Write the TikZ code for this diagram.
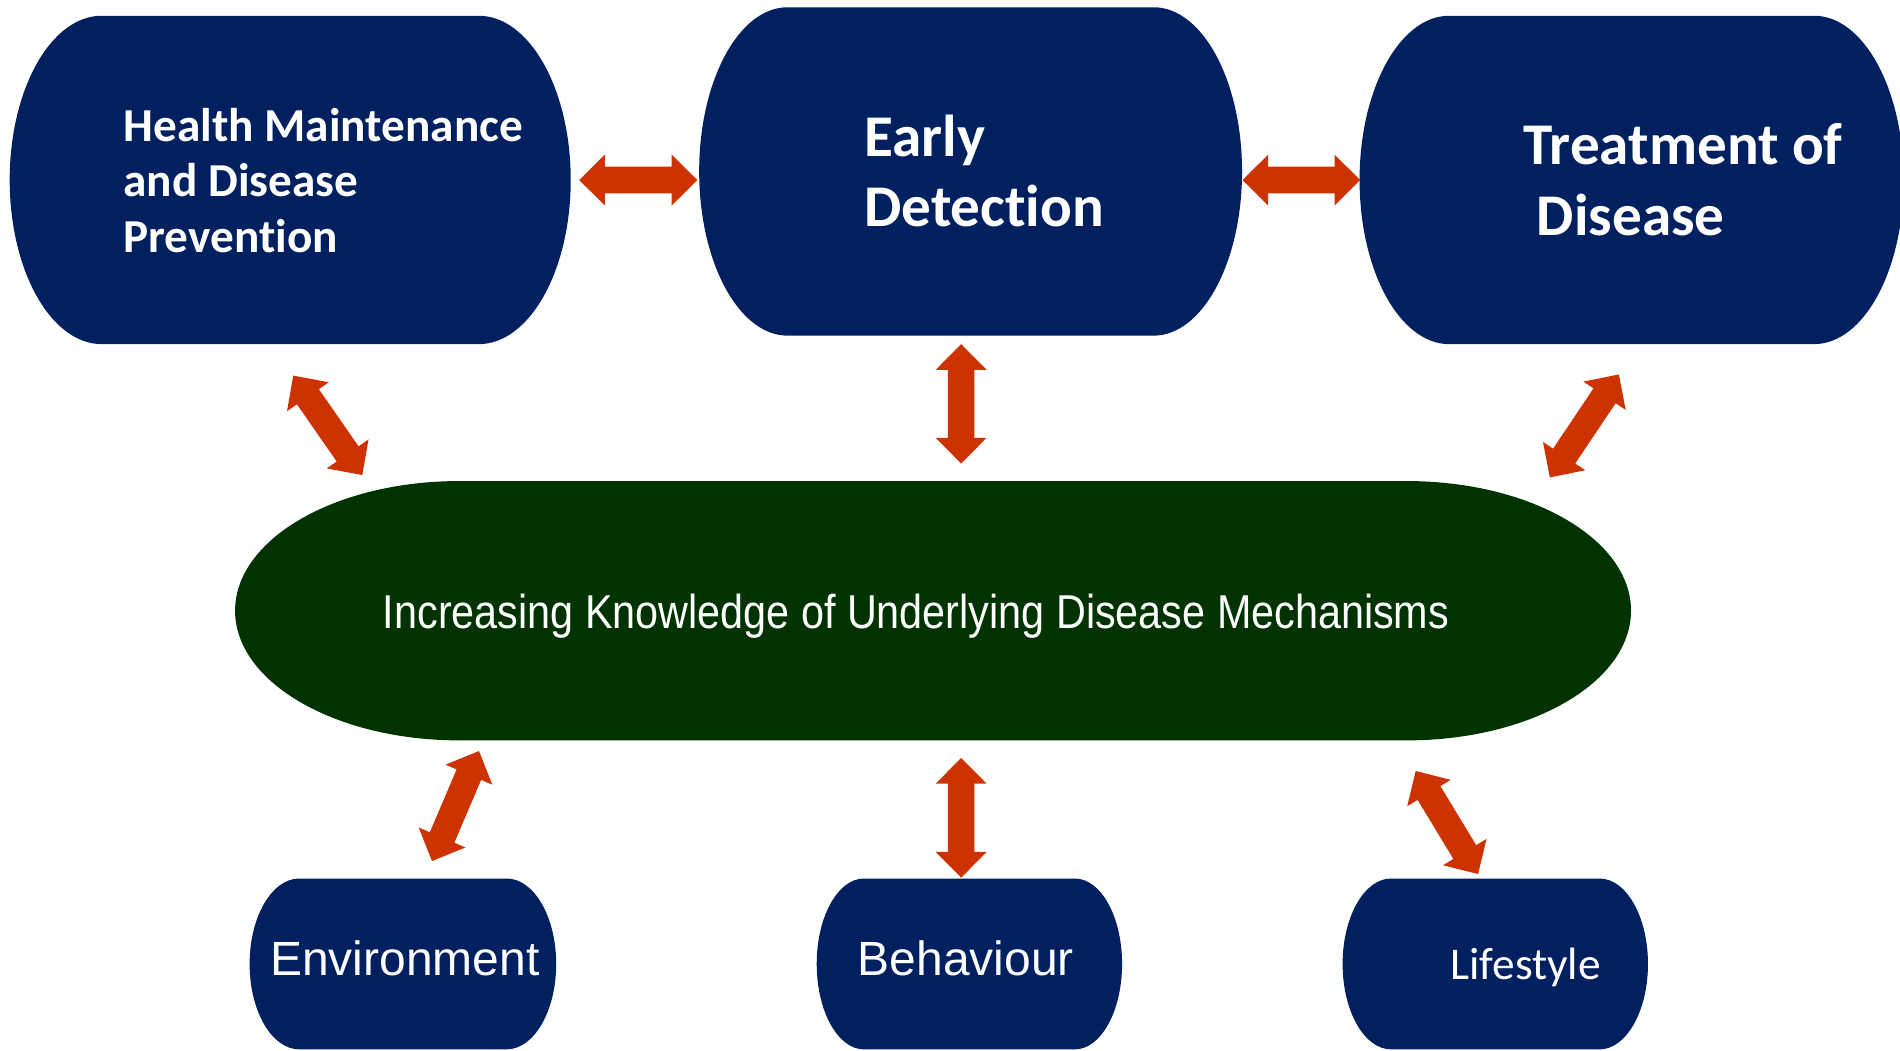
\documentclass[tikz,border=0pt]{standalone}
\usepackage{fontspec}
\usepackage{graphicx}
\usetikzlibrary{calc}
\newfontfamily\calfont[Ligatures=NoCommon,Contextuals=NoAlternate]{Carlito}
\newfontfamily\arifont{Liberation Sans}
\definecolor{navy}{HTML}{002060}
\definecolor{dgreen}{HTML}{003300}
\definecolor{arrowc}{HTML}{CC3300}
\newcommand\capsule[6]{%
  \fill[#6] ({#1+#5},#2) -- ({#3-#5},#2)
    arc[start angle=-90,end angle=90,x radius=#5,y radius={(#4-#2)/2}]
    -- ({#1+#5},#4)
    arc[start angle=90,end angle=270,x radius=#5,y radius={(#4-#2)/2}] -- cycle;}
\newcommand\hl{10.6pt}% head length
\newcommand\hw{10.5pt}% head half width
\newcommand\sw{5.5pt}%  shaft half width
\newcommand\dblarr[2]{%
  \fill[arrowc] (#1)
    -- ($(#1)!\hl!(#2)!\hw!90:(#2)$) -- ($(#1)!\hl!(#2)!\sw!90:(#2)$)
    -- ($(#2)!\hl!(#1)!\sw!-90:(#1)$) -- ($(#2)!\hl!(#1)!\hw!-90:(#1)$)
    -- (#2)
    -- ($(#2)!\hl!(#1)!\hw!90:(#1)$) -- ($(#2)!\hl!(#1)!\sw!90:(#1)$)
    -- ($(#1)!\hl!(#2)!\sw!-90:(#2)$) -- ($(#1)!\hl!(#2)!\hw!-90:(#2)$)
    -- cycle;}
\begin{document}
\begin{tikzpicture}[x=0.5pt,y=-0.5pt,
  multitext/.style={inner sep=0pt, anchor=north west, align=left, text=white},
  singletext/.style={inner sep=0pt, anchor=base, text=white}]
\useasboundingbox[fill=white] (0,0) rectangle (1568,867);
% shapes
\capsule{8}{13}{471}{284}{76}{navy}
\capsule{577}{6}{1025}{277}{73}{navy}
\capsule{1122}{13}{1571}{284}{74}{navy}
\capsule{194}{397}{1346}{611}{185}{dgreen}
\capsule{206}{725}{459}{866}{41}{navy}
\capsule{674}{725}{926}{866}{39}{navy}
\capsule{1108}{725}{1360}{866}{40}{navy}
% texts
\node[multitext, font=\calfont\bfseries\fontsize{19.5pt}{23pt}\selectfont] (hm) at (101.5,77)
  {\rule{0pt}{1em}Health Maintenance\\and Disease\\Prevention};
\node[multitext, font=\calfont\bfseries\fontsize{24.4pt}{29pt}\selectfont] (ed) at (713,79.7)
  {\rule{0pt}{1em}Early\\Detection};
\node[multitext, font=\calfont\bfseries\fontsize{24.4pt}{29pt}\selectfont] (td) at (1257,86.8)
  {\rule{0pt}{1em}Treatment of\\\hspace*{5.5pt}Disease};
\node[singletext] (km) at (756,519)
  {\resizebox{440pt}{\height}{\arifont\fontsize{19.6pt}{23pt}\selectfont Increasing Knowledge of Underlying Disease Mechanisms}};
\node[singletext, font=\arifont\fontsize{19.8pt}{24pt}\selectfont] (env) at (334,805) {Environment};
\node[singletext, font=\arifont\fontsize{19.8pt}{24pt}\selectfont] (beh) at (797,805) {Behaviour};
\node[singletext, font=\calfont\fontsize{18.7pt}{22pt}\selectfont] (life) at (1259,808) {Lifestyle};
% arrow end points
\coordinate (a1s) at (478,148.6);   \coordinate (a1e) at (575.5,148.6);
\coordinate (a2s) at (1025.4,148.6); \coordinate (a2e) at (1122.5,148.6);
\coordinate (a3s) at (793.2,284);   \coordinate (a3e) at (793.2,382.5);
\coordinate (a4s) at (793.2,625.5); \coordinate (a4e) at (793.2,724.3);
\coordinate (a5s) at (242,310);     \coordinate (a5e) at (299,392);
\coordinate (a6s) at (1336,309);    \coordinate (a6e) at (1279,394);
\coordinate (a7s) at (395.3,619.8); \coordinate (a7e) at (356.5,710.6);
\coordinate (a8s) at (1168.3,636.3); \coordinate (a8e) at (1219.8,721.3);
\foreach \i in {1,...,8} {\dblarr{a\i s}{a\i e}}
\end{tikzpicture}
\end{document}
